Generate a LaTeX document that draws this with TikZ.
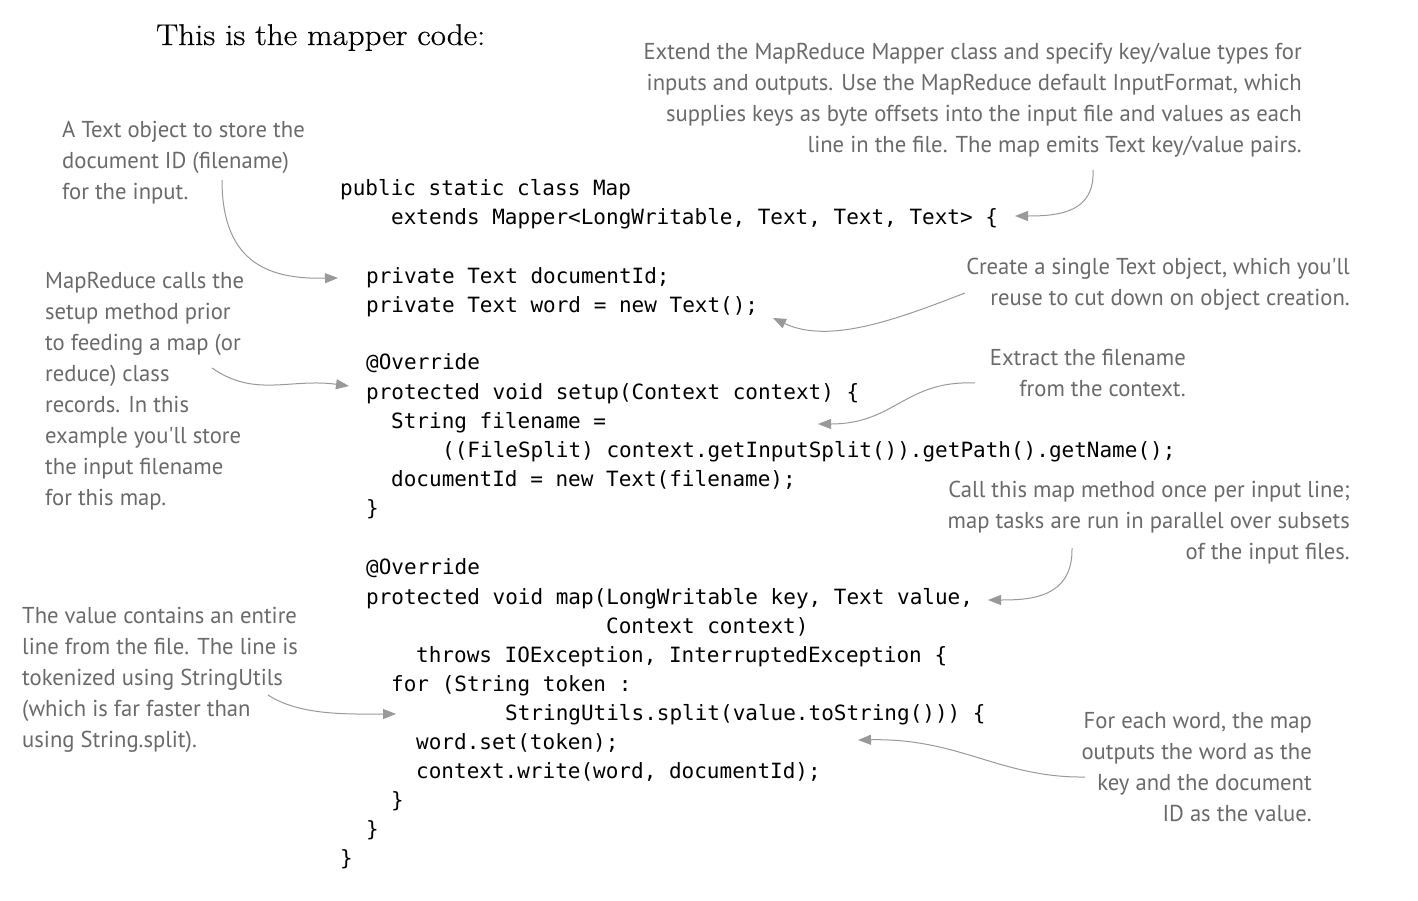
\documentclass[tikz,border=0pt]{standalone}
\usepackage{fontspec}
\usetikzlibrary{arrows.meta}
\newfontfamily\codefont{DejaVu Sans Mono}
\newfontfamily\notefont[FakeStretch=0.985]{PT Sans}
\newfontfamily\titlefont[FakeStretch=1.1,FakeBold=0.6]{Latin Modern Roman}
\definecolor{notegray}{HTML}{6A6A6A}
\definecolor{arrowgray}{HTML}{999999}
\tikzset{
  codeline/.style={anchor=base west, inner sep=0pt, font=\codefont\fontsize{21}{29}\selectfont, text=black},
  noteR/.style={anchor=north east, inner sep=0pt, align=right, font=\notefont\fontsize{23}{31}\selectfont, text=notegray},
  noteL/.style={anchor=north west, inner sep=0pt, align=left, font=\notefont\fontsize{23}{31}\selectfont, text=notegray},
  callout/.style={draw=arrowgray, line width=1pt, -{Triangle[length=13pt,width=10pt]}, arrowgray}
}
\begin{document}
\begin{tikzpicture}[x=1pt,y=-1pt]
\useasboundingbox (0,0) rectangle (1418,900);
% title
\node[anchor=base west, inner sep=0pt, font=\titlefont\fontsize{30}{34}\selectfont] (title) at (156,45) {This is the mapper code:};
% code
\node[codeline] (c1) at (340,195) {public static class Map};
\node[codeline] (c2) at (391,224) {extends Mapper<LongWritable, Text, Text, Text> \{};
\node[codeline] (c3) at (366,283) {private Text documentId;};
\node[codeline] (c4) at (366,312) {private Text word = new Text();};
\node[codeline] (c5) at (366,369) {@Override};
\node[codeline] (c6) at (366,399) {protected void setup(Context context) \{};
\node[codeline] (c7) at (391,428) {String filename =};
\node[codeline] (c8) at (442,457) {((FileSplit) context.getInputSplit()).getPath().getName();};
\node[codeline] (c9) at (391,486) {documentId = new Text(filename);};
\node[codeline] (c10) at (366,515) {\}};
\node[codeline] (c11) at (366,574) {@Override};
\node[codeline] (c12) at (366,604) {protected void map(LongWritable key, Text value,};
\node[codeline] (c13) at (606,633) {Context context)};
\node[codeline] (c14) at (416,662) {throws IOException, InterruptedException \{};
\node[codeline] (c15) at (391,691) {for (String token :};
\node[codeline] (c16) at (505,720) {StringUtils.split(value.toString())) \{};
\node[codeline] (c17) at (416,749) {word.set(token);};
\node[codeline] (c18) at (416,778) {context.write(word, documentId);};
\node[codeline] (c19) at (391,807) {\}};
\node[codeline] (c20) at (366,836) {\}};
\node[codeline] (c21) at (340,865) {\}};
% notes
\node[noteR] (n1) at (1302,43) {Extend the MapReduce Mapper class and specify key/value types for\\inputs and outputs. Use the MapReduce default InputFormat, which\\supplies keys as byte offsets into the input file and values as each\\line in the file. The map emits Text key/value pairs.};
\node[noteL] (n2) at (62,121) {A Text object to store the\\document ID (filename)\\for the input.};
\node[noteL] (n3) at (45,272) {MapReduce calls the\\setup method prior\\to feeding a map (or\\reduce) class\\records. In this\\example you'll store\\the input filename\\for this map.};
\node[noteR] (n4) at (1350,258) {Create a single Text object, which you'll\\reuse to cut down on object creation.};
\node[noteR] (n5) at (1186,349) {Extract the filename\\from the context.};
\node[noteR] (n6) at (1350,481) {Call this map method once per input line;\\map tasks are run in parallel over subsets\\of the input files.};
\node[noteL] (n7) at (22,607) {The value contains an entire\\line from the file. The line is\\tokenized using StringUtils\\(which is far faster than\\using String.split).};
\node[noteR] (n8) at (1312,712) {For each word, the map\\outputs the word as the\\key and the document\\ID as the value.};
% connector end points
\coordinate (a1s) at (1093,170); \coordinate (a1e) at (1015,216);
\coordinate (a2s) at (222,180);  \coordinate (a2e) at (338,278);
\coordinate (a3s) at (965,293);  \coordinate (a3e) at (773,318);
\coordinate (a4s) at (212,368);  \coordinate (a4e) at (349,386);
\coordinate (a5s) at (975,383);  \coordinate (a5e) at (818,424);
\coordinate (a6s) at (1072,548); \coordinate (a6e) at (988,600);
\coordinate (a7s) at (268,695);  \coordinate (a7e) at (396,714);
\coordinate (a8s) at (1085,777); \coordinate (a8e) at (858,740);
% connectors
\draw[callout] (a1s) .. controls (1095,212) and (1060,216) .. (a1e);
\draw[callout] (a2s) .. controls (222,268) and (275,279) .. (a2e);
\draw[callout] (a3s) .. controls (900,318) and (830,345) .. (a3e);
\draw[callout] (a4s) .. controls (255,398) and (290,378) .. (a4e);
\draw[callout] (a5s) .. controls (905,380) and (895,424) .. (a5e);
\draw[callout] (a6s) .. controls (1073,598) and (1030,600) .. (a6e);
\draw[callout] (a7s) .. controls (300,716) and (350,714) .. (a7e);
\draw[callout] (a8s) .. controls (1000,778) and (960,738) .. (a8e);
\end{tikzpicture}
\end{document}
